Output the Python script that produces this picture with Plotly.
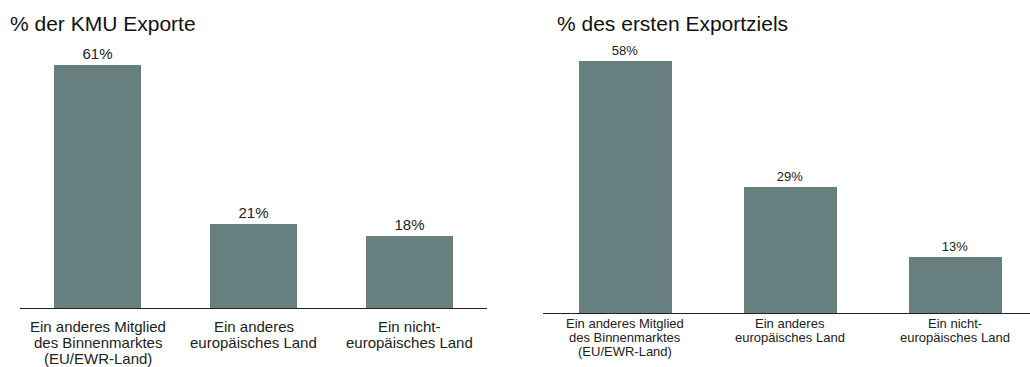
import plotly.graph_objects as go

W, H = 1030, 367

categories = [
    ["Ein anderes Mitglied", "des Binnenmarktes", "(EU/EWR-Land)"],
    ["Ein anderes", "europäisches Land"],
    ["Ein nicht-", "europäisches Land"],
]
kmu_exporte = [61, 21, 18]
erstes_exportziel = [58, 29, 13]
titles = ["% der KMU Exporte", "% des ersten Exportziels"]

bar_color = "#677f7e"
text_color = "#222222"
font_family = "Liberation Sans, Arial, sans-serif"


def px(v):
    return v / W


def py(v):
    return (H - v) / H


fig = go.Figure()

fig.add_trace(go.Bar(
    x=[0, 1, 2], y=kmu_exporte, xaxis="x", yaxis="y",
    marker=dict(color=bar_color, line=dict(width=0)), width=0.56,
    text=[f"{v}%" for v in kmu_exporte], textposition="outside",
    textfont=dict(size=15, color=text_color, family=font_family),
    cliponaxis=False,
))
fig.add_trace(go.Bar(
    x=[0, 1, 2], y=erstes_exportziel, xaxis="x2", yaxis="y2",
    marker=dict(color=bar_color, line=dict(width=0)), width=0.56,
    text=[f"{v}%" for v in erstes_exportziel], textposition="outside",
    textfont=dict(size=13, color=text_color, family=font_family),
    cliponaxis=False,
))

annotations = [
    dict(text=titles[0], x=px(8), y=py(24), xref="paper", yref="paper",
         xanchor="left", yanchor="middle", showarrow=False,
         font=dict(size=21, color="#111")),
    dict(text=titles[1], x=px(555), y=py(24), xref="paper", yref="paper",
         xanchor="left", yanchor="middle", showarrow=False,
         font=dict(size=21, color="#111")),
]

# category labels below each axis, one line at a time for tight line spacing
for xref, first_line, step, size in (("x", 326, 16, 15), ("x2", 323, 14, 13)):
    for i, lines in enumerate(categories):
        for j, line in enumerate(lines):
            annotations.append(dict(
                text=line, x=i, xref=xref, y=py(first_line + j * step), yref="paper",
                xanchor="center", yanchor="middle", showarrow=False,
                font=dict(size=size, color=text_color),
            ))

axis_common = dict(showline=True, linecolor="#222", linewidth=1,
                   showgrid=False, zeroline=False, ticks="",
                   showticklabels=False, tickvals=[0, 1, 2])

fig.update_layout(
    width=W, height=H, margin=dict(l=0, r=0, t=0, b=0),
    paper_bgcolor="white", plot_bgcolor="white",
    showlegend=False, bargap=0,
    font=dict(family=font_family, color=text_color),
    xaxis=dict(domain=[px(20), px(487)], range=[-0.5, 2.5], anchor="y", **axis_common),
    yaxis=dict(domain=[py(308), py(308 - 3.98 * 70)], range=[0, 70],
               visible=False, showgrid=False, zeroline=False),
    xaxis2=dict(domain=[px(542.5), 1.0], range=[-0.5, 2.4545], anchor="y2", **axis_common),
    yaxis2=dict(domain=[py(313), py(313 - 4.36 * 65)], range=[0, 65],
                anchor="x2", visible=False, showgrid=False, zeroline=False),
    annotations=annotations,
)

fig.write_html("out.html")
